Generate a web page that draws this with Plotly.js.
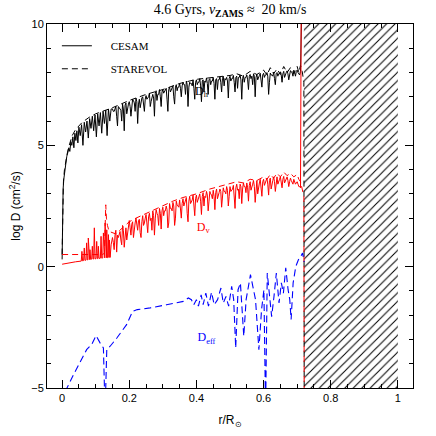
<!DOCTYPE html>
<html>
<head>
<meta charset="utf-8">
<script src="https://cdn.plot.ly/plotly-3.0.1.min.js"></script>
<style>html,body{margin:0;padding:0;background:#fff;}#chart{width:436px;height:436px;}</style>
</head>
<body>
<div id="chart"></div>
<script>
// radial grids (r/Rsun) for the noisy CESAM profiles
const rGrid = [
0.150,0.155,0.160,0.165,0.170,0.175,0.180,0.185,0.190,0.195,
0.200,0.205,0.210,0.215,0.220,0.225,0.230,0.235,0.240,0.245,
0.250,0.255,0.260,0.265,0.270,0.275,0.280,0.285,0.290,0.295,
0.300,0.305,0.310,0.315,0.320,0.325,0.330,0.335,0.340,0.345,
0.350,0.355,0.360,0.365,0.370,0.375,0.380,0.385,0.390,0.395,
0.400,0.405,0.410,0.415,0.420,0.425,0.430,0.435,0.440,0.445,
0.450,0.455,0.460,0.465,0.470,0.475,0.480,0.485,0.490,0.495,
0.500,0.505,0.510,0.515,0.520,0.525,0.530,0.535,0.540,0.545,
0.550,0.555,0.560,0.565,0.570,0.575,0.580,0.585,0.590,0.595,
0.600,0.605,0.610,0.615,0.620,0.625,0.630,0.635,0.640,0.645,
0.650,0.655,0.660,0.665,0.670,0.675,0.680,0.685,0.690,0.695,
0.700,0.705,0.710];
const rGridMid = [
0.1525,0.1575,0.1625,0.1675,0.1725,0.1775,0.1825,0.1875,0.1925,0.1975,
0.2025,0.2075,0.2125,0.2175,0.2225,0.2275,0.2325,0.2375,0.2425,0.2475,
0.2525,0.2575,0.2625,0.2675,0.2725,0.2775,0.2825,0.2875,0.2925,0.2975,
0.3025,0.3075,0.3125,0.3175,0.3225,0.3275,0.3325,0.3375,0.3425,0.3475,
0.3525,0.3575,0.3625,0.3675,0.3725,0.3775,0.3825,0.3875,0.3925,0.3975,
0.4025,0.4075,0.4125,0.4175,0.4225,0.4275,0.4325,0.4375,0.4425,0.4475,
0.4525,0.4575,0.4625,0.4675,0.4725,0.4775,0.4825,0.4875,0.4925,0.4975,
0.5025,0.5075,0.5125,0.5175,0.5225,0.5275,0.5325,0.5375,0.5425,0.5475,
0.5525,0.5575,0.5625,0.5675,0.5725,0.5775,0.5825,0.5875,0.5925,0.5975,
0.6025,0.6075,0.6125,0.6175,0.6225,0.6275,0.6325,0.6375,0.6425,0.6475,
0.6525,0.6575,0.6625,0.6675,0.6725,0.6775,0.6825,0.6875,0.6925,0.6975,
0.7025,0.7075];

// CESAM D_h (black solid)
const dhCesamInnerR = [0,0.001,0.003,0.005,0.008,0.011,0.014,0.017,0.02,0.023,
0.026,0.029,0.032,0.035,0.038,0.041,0.044,0.047,0.05,0.054,
0.058,0.062,0.066,0.07,0.074,0.078,0.082,0.086,0.09,0.094,
0.098,0.102,0.106,0.11,0.114,0.118,0.122,0.126,0.13,0.134,
0.138,0.142,0.146];
const dhCesamInner = [0.3,2.0,3.2,3.6,4.0,4.3,4.55,4.7,4.9,4.75,
5.15,5.0,5.35,4.9,5.5,5.2,5.6,5.1,5.75,5.4,
5.85,5.0,5.95,5.55,6.0,5.3,6.1,5.7,6.2,5.6,
6.25,5.35,6.3,5.8,6.35,5.5,6.4,5.9,6.45,5.4,
6.5,6.0,6.5];
const dhCesamOuter = [
6.5,6.4,6.6,5.8,6.55,6.45,6.7,5.6,6.75,6.55,
6.8,6.2,6.9,6.75,6.95,5.9,6.9,6.8,7.0,6.4,
7.05,6.95,7.15,6.8,7.1,6.2,7.25,7.1,7.3,6.6,
7.3,7.2,7.35,6.4,7.4,7.3,7.45,6.7,7.5,7.4,
7.55,7.0,7.6,7.5,7.65,6.6,7.6,7.55,7.7,6.9,
7.7,7.6,7.75,6.8,7.7,7.65,7.78,7.1,7.75,7.65,
7.8,6.9,7.75,7.7,7.82,7.2,7.85,7.75,7.8,6.95,
7.85,7.75,7.88,7.2,7.85,7.8,7.9,6.9,7.88,7.8,
7.9,7.3,7.92,7.85,7.95,7.0,7.93,7.85,7.97,7.4,
7.97,7.9,8.0,7.1,7.98,7.9,8.02,7.5,8.0,7.95,
8.03,7.6,8.05,7.95,8.07,7.7,8.08,8.0,8.1,7.85,
8.1,7.95,8.05];
const dhCesamMid = [
6.4,6.55,6.2,6.6,6.45,6.0,6.5,6.65,6.3,6.7,
6.6,6.75,6.85,6.4,6.8,6.7,6.55,6.95,6.75,6.9,
6.9,7.0,6.6,7.05,6.95,7.15,6.85,7.1,7.0,7.2,
7.15,7.25,6.9,7.3,7.2,7.35,7.0,7.4,7.25,7.4,
7.35,7.45,7.5,7.1,7.5,7.4,7.55,7.45,7.35,7.6,
7.5,7.6,7.45,7.65,7.2,7.6,7.55,7.7,7.5,7.65,
7.55,7.7,7.3,7.7,7.6,7.75,7.45,7.7,7.65,7.75,
7.65,7.75,7.6,7.8,7.35,7.8,7.7,7.75,7.6,7.8,
7.7,7.85,7.75,7.5,7.85,7.8,7.7,7.88,7.75,7.9,
7.8,7.9,7.85,7.6,7.9,7.85,7.75,7.95,7.85,7.95,
7.9,7.95,7.8,8.0,7.95,7.9,8.02,7.85,8.0,8.05,
8.0,7.9];
const dhCesamEdgeR = [0.7135];
const dhCesamEdge = [10.6];

// STAREVOL D_h (black dashed)
const dhStarR = [0,0.002,0.004,0.007,0.01,0.015,0.02,0.03,0.04,0.05,
0.06,0.08,0.1,0.12,0.15,0.2,0.25,0.3,0.35,0.4,
0.45,0.5,0.52,0.54,0.56,0.58,0.6,0.61,0.62,0.63,
0.64,0.65,0.66,0.67,0.68,0.69,0.7,0.705,0.71,0.715,
0.72,0.721];
const dhStar = [0.5,2.8,3.5,4.0,4.3,4.65,4.95,5.4,5.65,5.8,
5.95,6.15,6.3,6.4,6.55,6.85,7.1,7.3,7.55,7.72,
7.8,7.88,7.95,7.85,8.05,7.92,8.1,7.9,8.2,7.95,
8.15,7.92,8.25,8.0,8.2,7.95,8.25,8.0,8.3,8.05,
7.6,-6];

// CESAM D_v (red solid)
const dvCesamInnerR = [0,0.02,0.04,0.057,0.059,0.061,0.064,0.066,0.068,0.071,
0.073,0.075,0.077,0.078,0.08,0.082,0.083,0.085,0.088,0.09,
0.092,0.094,0.096,0.098,0.101,0.103,0.105,0.107,0.108,0.11,
0.114,0.116,0.118,0.121,0.123,0.125,0.127,0.128,0.13,0.132,
0.133,0.135,0.137,0.138,0.14,0.141,0.143,0.146];
const dvCesamInner = [0.1,0.16,0.2,0.23,0.63,0.24,0.25,0.77,0.26,0.27,
0.98,0.28,0.28,1.18,0.29,0.29,0.7,0.3,0.31,0.84,
0.31,0.32,1.6,0.32,0.33,1.04,0.33,0.34,0.84,0.34,
0.35,1.25,0.35,0.36,1.39,0.36,0.36,1.8,0.37,0.37,
1.52,0.37,0.38,1.32,0.38,1.1,0.38,0.9];
const dvCesamOuter = [
1.2,0.7,1.5,1.3,1.4,1.1,1.7,0.8,1.6,1.45,
1.9,1.3,1.85,1.7,2.0,1.5,1.95,1.2,2.1,1.8,
2.15,1.4,2.2,2.0,2.3,1.3,2.35,2.1,2.4,1.55,
2.45,2.3,2.5,1.6,2.6,2.4,2.65,1.7,2.7,2.5,
2.75,2.0,2.8,2.6,2.85,1.85,2.9,2.7,2.95,2.1,
2.95,2.8,3.0,2.15,3.05,2.9,3.1,2.3,3.1,2.95,
3.15,2.35,3.2,3.0,3.2,2.45,3.25,3.1,3.3,2.5,
3.3,3.15,3.35,2.4,3.4,3.2,3.4,2.6,3.45,3.3,
3.45,2.7,3.5,3.35,3.55,2.65,3.55,3.4,3.6,2.9,
3.6,3.45,3.65,2.95,3.65,3.5,3.7,3.1,3.7,3.55,
3.7,3.25,3.72,3.55,3.7,3.3,3.65,3.5,3.6,3.4,
3.5,3.3,3.25];
const dvCesamMid = [
1.0,1.3,0.6,1.2,1.45,0.9,1.5,1.3,1.1,1.7,
1.6,1.75,1.2,1.8,1.55,1.9,1.4,1.85,1.7,2.0,
1.8,2.05,1.9,1.5,2.1,2.0,2.2,1.7,2.2,2.3,
2.1,2.3,2.35,1.8,2.4,2.3,2.5,2.0,2.55,2.45,
2.4,2.6,2.5,2.7,2.2,2.7,2.6,2.75,2.4,2.8,
2.65,2.85,2.7,2.9,2.5,2.85,2.95,2.7,3.0,2.8,
2.9,3.05,2.8,3.05,3.1,2.75,3.1,3.0,3.15,2.9,
3.1,3.2,3.0,3.25,3.15,2.8,3.3,3.2,3.3,3.05,
3.25,3.35,3.15,3.4,3.3,3.45,3.0,3.45,3.35,3.5,
3.35,3.5,3.4,3.55,3.2,3.55,3.5,3.6,3.4,3.6,
3.5,3.6,3.45,3.65,3.55,3.5,3.55,3.4,3.5,3.45,
3.4,3.3];
const dvCesamEdgeR = [0.712];
const dvCesamEdge = [10.6];

// STAREVOL D_v (red dashed)
const dvStarR = [0,0.03,0.06,0.09,0.12,0.126,0.13,0.132,0.135,0.14,
0.15,0.16,0.18,0.2,0.22,0.25,0.28,0.3,0.33,0.36,
0.4,0.44,0.48,0.5,0.52,0.54,0.56,0.58,0.6,0.61,
0.62,0.63,0.64,0.65,0.66,0.67,0.68,0.69,0.7,0.705,
0.71,0.715,0.72,0.721];
const dvStar = [0.5,0.5,0.5,0.5,0.5,0.55,2.55,2.0,1.7,1.45,
1.4,1.35,1.6,1.85,2.0,2.2,2.4,2.5,2.7,2.85,
3.0,3.2,3.35,3.4,3.5,3.45,3.6,3.55,3.7,3.6,
3.8,3.65,3.85,3.7,3.9,3.75,3.85,3.7,3.8,3.6,
3.5,3.2,2.9,-6];

// STAREVOL D_eff (blue dashed)
const deffR = [0.008,0.012,0.034,0.054,0.073,0.088,0.101,0.113,0.123,0.128,
0.133,0.143,0.163,0.192,0.21,0.224,0.262,0.311,0.361,0.376,
0.385,0.392,0.4,0.406,0.414,0.42,0.428,0.436,0.445,0.453,
0.463,0.473,0.48,0.488,0.496,0.505,0.511,0.517,0.524,0.531,
0.536,0.541,0.548,0.561,0.568,0.576,0.586,0.594,0.601,0.606,
0.611,0.618,0.624,0.631,0.638,0.646,0.653,0.659,0.666,0.673,
0.678,0.682,0.688,0.696,0.704,0.711,0.716,0.721];
const deff = [-5.6,-5.07,-4.45,-3.9,-3.42,-3.21,-2.84,-3.14,-3.35,-6,
-3.42,-3.28,-2.94,-2.39,-1.84,-1.77,-1.70,-1.57,-1.43,-1.29,
-1.36,-1.57,-1.36,-1.63,-1.16,-1.57,-1.09,-1.63,-1.06,-1.57,
-1.36,-0.88,-1.5,-1.23,-1.63,-0.81,-1.36,-3.35,-0.95,-0.67,
-1.77,-2.87,-1.36,-0.33,-0.81,-1.36,-3.42,-1.77,-0.95,-6,
-0.26,-1.09,-2.06,-1.23,-0.26,-1.5,-0.67,-1.09,-0.05,-0.95,
-1.36,-2.18,-0.67,0.01,0.29,0.42,0.56,0.2];

// convective envelope (hatched)
const czR = [0.72,1.0,1.0,0.72];
const czLogD = [-5,-5,10,10];

// curve labels
const labelText = ['D<sub>h</sub>','D<sub>v</sub>','D<sub>eff</sub>'];
const labelR = [0.415,0.42,0.43];
const labelLogD = [7.2,1.6,-2.95];

const legendNames = ['CESAM','STAREVOL'];
const titleText = '4.6 Gyrs, <i>v</i><sub><b>ZAMS</b></sub> \u2248  20 km/s';

const serif = 'Liberation Serif, Times New Roman, serif';
const sans = 'Liberation Sans, Arial, sans-serif';
const NB = '\u00a0\u00a0\u00a0\u00a0\u00a0';

// merge the two sampling grids of a CESAM profile in radial order
function merged(innerR, inner, outer, mid, edgeR, edge) {
  const xs = innerR.slice(), ys = inner.slice();
  for (let i = 0; i < rGrid.length; i++) {
    xs.push(rGrid[i]); ys.push(outer[i]);
    if (i < rGridMid.length) { xs.push(rGridMid[i]); ys.push(mid[i]); }
  }
  return {x: xs.concat(edgeR), y: ys.concat(edge)};
}
const dhC = merged(dhCesamInnerR, dhCesamInner, dhCesamOuter, dhCesamMid, dhCesamEdgeR, dhCesamEdge);
const dvC = merged(dvCesamInnerR, dvCesamInner, dvCesamOuter, dvCesamMid, dvCesamEdgeR, dvCesamEdge);

const traces = [
  {x: czR, y: czLogD, mode: 'lines', fill: 'toself', line: {width: 0, color: 'rgba(0,0,0,0)'},
   fillcolor: 'rgba(0,0,0,0)',
   fillpattern: {shape: '/', size: 6, solidity: 0.17, fgcolor: '#000', bgcolor: 'rgba(255,255,255,0)', fgopacity: 1},
   showlegend: false, hoverinfo: 'skip'},
  {x: [labelR[0]], y: [labelLogD[0]], mode: 'text', text: [labelText[0]],
   textfont: {family: serif, size: 12, color: '#000'}, showlegend: false},
  {x: dhStarR, y: dhStar, mode: 'lines', line: {color: '#000', width: 1, dash: '6px,4px'}, showlegend: false},
  {x: dhC.x, y: dhC.y, mode: 'lines', line: {color: '#000', width: 1}, showlegend: false},
  {x: dvStarR, y: dvStar, mode: 'lines', line: {color: '#ff0000', width: 1, dash: '6px,4px'}, showlegend: false},
  {x: dvC.x, y: dvC.y, mode: 'lines', line: {color: '#ff0000', width: 1}, showlegend: false},
  {x: deffR, y: deff, mode: 'lines', line: {color: '#0000ff', width: 1.1, dash: '7px,4px'}, showlegend: false},
  {x: [labelR[1], labelR[2]], y: [labelLogD[1], labelLogD[2]], mode: 'text', text: [labelText[1], labelText[2]],
   textfont: {family: serif, size: 12, color: ['#ff0000', '#0000ff']}, showlegend: false},
  {x: [null], y: [null], mode: 'lines', line: {color: '#000', width: 1}, name: NB + legendNames[0], legendgroup: 'a'},
  {x: [null], y: [null], mode: 'lines', line: {color: '#000', width: 1, dash: '6px,4px'}, name: NB + legendNames[1], legendgroup: 'b'}
];

const axisCommon = {
  ticks: 'inside', tickwidth: 1, tickcolor: '#000', mirror: 'allticks',
  showline: true, linecolor: '#000', linewidth: 1, showgrid: false, zeroline: false,
  tickfont: {family: sans, size: 11, color: '#000'}
};

const layout = {
  width: 436, height: 436,
  margin: {l: 47, r: 23, t: 24, b: 48},
  paper_bgcolor: '#fff', plot_bgcolor: '#fff',
  showlegend: true,
  legend: {x: 0.027, y: 0.98, xanchor: 'left', yanchor: 'top', bgcolor: 'rgba(0,0,0,0)',
           traceorder: 'grouped', tracegroupgap: 4,
           font: {family: serif, size: 11, color: '#000'}},
  title: {text: titleText, font: {family: serif, size: 14, color: '#000'},
          x: 0.5, xref: 'paper', xanchor: 'center', y: 0.979, yref: 'container', yanchor: 'middle'},
  xaxis: Object.assign({}, axisCommon, {
    range: [-0.045, 1.045], tick0: 0, dtick: 0.2, ticklen: 8,
    minor: {dtick: 0.05, ticklen: 4, tickcolor: '#000', ticks: 'inside', showgrid: false},
    title: {text: 'r/R<sub>\u2299</sub>', font: {family: sans, size: 12, color: '#000'}, standoff: 12}
  }),
  yaxis: Object.assign({}, axisCommon, {
    range: [-5.001, 10.001], tick0: 0, dtick: 5, ticklen: 8,
    minor: {dtick: 1, ticklen: 4, tickcolor: '#000', ticks: 'inside', showgrid: false},
    title: {text: 'log D (cm<sup>2</sup>/s)', font: {family: sans, size: 12, color: '#000'}, standoff: 8}
  })
};

Plotly.newPlot('chart', traces, layout, {staticPlot: true, displayModeBar: false});
</script>
</body>
</html>
